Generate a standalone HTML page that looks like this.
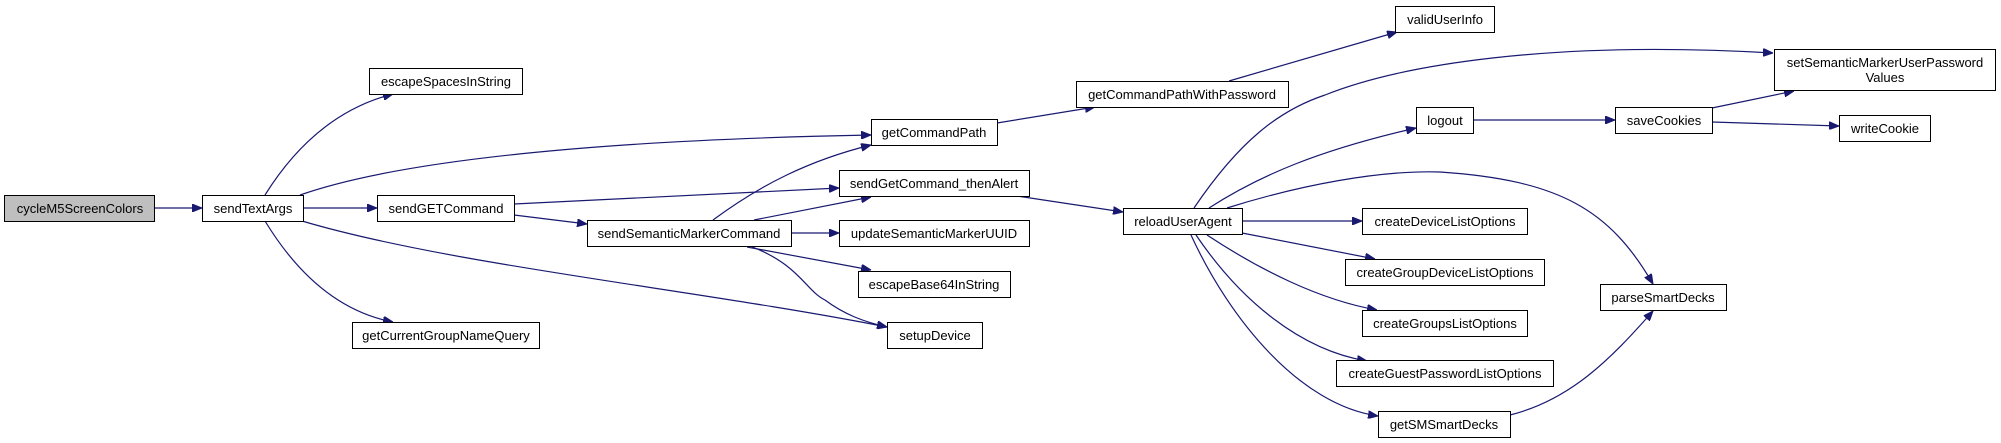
<!DOCTYPE html>
<html><head><meta charset="utf-8"><style>
html,body{margin:0;padding:0;background:#fff;}
svg{display:block;}
text{font-family:"Liberation Sans",sans-serif;font-size:13px;fill:#000;}
</style></head><body>
<svg width="2001" height="443" viewBox="0 0 2001 443" xmlns="http://www.w3.org/2000/svg">
<defs>
<marker id="a" viewBox="0 0 10 8" refX="10" refY="4" markerWidth="10" markerHeight="8" markerUnits="userSpaceOnUse" orient="auto">
<path d="M0,0 L10,4 L0,8 Z" fill="#191970" stroke="#191970"/>
</marker>
</defs>
<g fill="none" stroke="#191970" stroke-width="1.2" marker-end="url(#a)">
<path d="M155,208 L202,208"/>
<path d="M265,195 C290,155 330,110 393,94"/>
<path d="M300,195 C400,160 600,140 871,135"/>
<path d="M304,208 L377,208"/>
<path d="M265,221 C290,262 330,310 393,322"/>
<path d="M302,221 C450,265 700,290 887,327"/>
<path d="M514,204 L839,188"/>
<path d="M514,215 L587,224"/>
<path d="M713,220 C760,185 810,160 871,145"/>
<path d="M754,220 L871,197"/>
<path d="M791,233 L839,233"/>
<path d="M747,247 L871,270"/>
<path d="M750,246 C800,265 805,290 825,300 C845,315 865,322 887,327"/>
<path d="M997,123 L1095,107"/>
<path d="M1229,81 L1397,32"/>
<path d="M1017,196 L1123,212"/>
<path d="M1194,208 C1240,140 1280,110 1325,95 C1400,65 1550,40 1773,53"/>
<path d="M1209,208 C1260,175 1320,150 1416,128"/>
<path d="M1227,208 C1300,185 1380,170 1440,172 C1560,180 1610,210 1653,284"/>
<path d="M1242,221 L1362,221"/>
<path d="M1242,233 L1375,259"/>
<path d="M1207,235 C1260,270 1320,300 1377,310"/>
<path d="M1196,235 C1240,300 1300,350 1367,361"/>
<path d="M1191,235 C1230,320 1300,405 1378,416"/>
<path d="M1510,415 C1570,400 1610,360 1653,311"/>
<path d="M1473,120 L1615,120"/>
<path d="M1712,108 L1794,91"/>
<path d="M1712,122 L1839,126"/>
</g>
<g stroke="#000" stroke-width="1">
<rect x="4.5" y="195.5" width="150" height="26" fill="#bfbfbf"/>
<rect x="202.5" y="195.5" width="101" height="26" fill="#fff"/>
<rect x="369.5" y="68.5" width="153" height="26" fill="#fff"/>
<rect x="377.5" y="195.5" width="137" height="26" fill="#fff"/>
<rect x="587.5" y="220.5" width="204" height="26" fill="#fff"/>
<rect x="352.5" y="322.5" width="187" height="26" fill="#fff"/>
<rect x="871.5" y="119.5" width="126" height="26" fill="#fff"/>
<rect x="1076.5" y="81.5" width="212" height="26" fill="#fff"/>
<rect x="839.5" y="170.5" width="190" height="26" fill="#fff"/>
<rect x="839.5" y="220.5" width="190" height="26" fill="#fff"/>
<rect x="858.5" y="271.5" width="152" height="26" fill="#fff"/>
<rect x="887.5" y="322.5" width="95" height="26" fill="#fff"/>
<rect x="1123.5" y="208.5" width="119" height="26" fill="#fff"/>
<rect x="1395.5" y="6.5" width="99" height="26" fill="#fff"/>
<rect x="1774.5" y="49.5" width="221" height="41" fill="#fff"/>
<rect x="1416.5" y="107.5" width="57" height="26" fill="#fff"/>
<rect x="1615.5" y="107.5" width="97" height="26" fill="#fff"/>
<rect x="1839.5" y="115.5" width="91" height="26" fill="#fff"/>
<rect x="1362.5" y="208.5" width="165" height="26" fill="#fff"/>
<rect x="1345.5" y="259.5" width="199" height="26" fill="#fff"/>
<rect x="1362.5" y="310.5" width="165" height="26" fill="#fff"/>
<rect x="1336.5" y="360.5" width="217" height="26" fill="#fff"/>
<rect x="1378.5" y="411.5" width="132" height="26" fill="#fff"/>
<rect x="1600.5" y="284.5" width="126" height="26" fill="#fff"/>
</g>
<g text-anchor="middle">
<text x="80" y="213">cycleM5ScreenColors</text>
<text x="253" y="213">sendTextArgs</text>
<text x="446" y="86">escapeSpacesInString</text>
<text x="446" y="213">sendGETCommand</text>
<text x="689" y="238">sendSemanticMarkerCommand</text>
<text x="446" y="340">getCurrentGroupNameQuery</text>
<text x="934" y="137">getCommandPath</text>
<text x="1182" y="99">getCommandPathWithPassword</text>
<text x="934" y="188">sendGetCommand_thenAlert</text>
<text x="934" y="238">updateSemanticMarkerUUID</text>
<text x="934" y="289">escapeBase64InString</text>
<text x="935" y="340">setupDevice</text>
<text x="1183" y="226">reloadUserAgent</text>
<text x="1445" y="24">validUserInfo</text>
<text x="1885" y="67">setSemanticMarkerUserPassword</text>
<text x="1885" y="82">Values</text>
<text x="1445" y="125">logout</text>
<text x="1664" y="125">saveCookies</text>
<text x="1885" y="133">writeCookie</text>
<text x="1445" y="226">createDeviceListOptions</text>
<text x="1445" y="277">createGroupDeviceListOptions</text>
<text x="1445" y="328">createGroupsListOptions</text>
<text x="1445" y="378">createGuestPasswordListOptions</text>
<text x="1444" y="429">getSMSmartDecks</text>
<text x="1663" y="302">parseSmartDecks</text>
</g>
</svg>
</body></html>
